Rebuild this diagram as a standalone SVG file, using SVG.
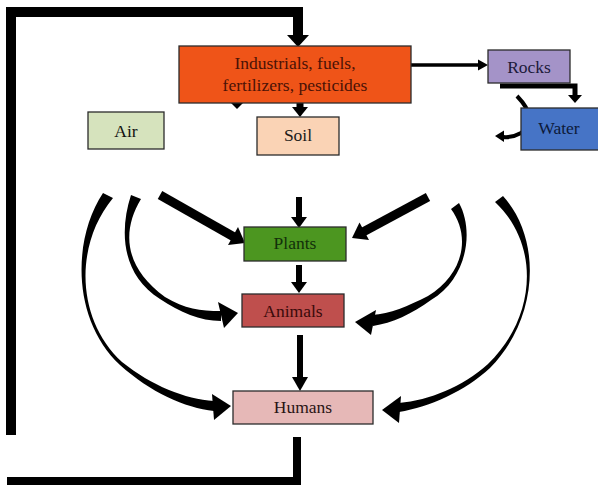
<svg xmlns="http://www.w3.org/2000/svg" width="598" height="486" viewBox="0 0 598 486">
<style>
.box{stroke:#2b2b2b;stroke-width:1.3}
.t{font-family:"Liberation Serif","DejaVu Serif",serif;font-size:17.5px;text-anchor:middle}
.ln{fill:none;stroke:#000}
.k{fill:#000;stroke:none}
</style>
<rect width="598" height="486" fill="#fff"/>
<g id="connectors">
  <path class="ln" d="M11,435 V12 H298 V37" stroke-width="10" stroke-linejoin="miter"/>
  <polygon class="k" points="287,35 309,35 298,47"/>
  <path class="ln" d="M297,437 V481 H7" stroke-width="8" stroke-linejoin="miter"/>
  <polygon class="k" points="231,103 243,103 237,109"/>
  <path class="ln" d="M300,103 V109" stroke-width="7"/>
  <polygon class="k" points="292,107 308,107 300,117"/>
  <path class="ln" d="M411,65 H480" stroke-width="3.5"/>
  <polygon class="k" points="478,59.5 488,65 478,70.5"/>
  <path class="ln" d="M500,86 H575 V96" stroke-width="5"/>
  <polygon class="k" points="568,95 582,95 575,103"/>
  <path class="ln" d="M517,96 Q540,120 521,133 Q512,138 503,137" stroke-width="4"/>
  <polygon class="k" points="495,136 504,130.5 504,142"/>
  <path class="ln" d="M299,197 V219" stroke-width="6"/>
  <polygon class="k" points="291,217 307,217 299,228"/>
  <path class="ln" d="M299,265 V284" stroke-width="6"/>
  <polygon class="k" points="291,282 307,282 299,293"/>
  <path class="ln" d="M300,335 V379" stroke-width="6"/>
  <polygon class="k" points="292,377 308,377 300,391"/>
  <path class="ln" d="M160,195 L234,237" stroke-width="9"/>
  <polygon class="k" points="245,243 228,245 238,227"/>
  <path class="ln" d="M428,197 L363,232" stroke-width="9"/>
  <polygon class="k" points="352,238 369,240 359.5,222.5"/>
  <path class="k" d="M131,195 C119,232 122,275 160,299 C180,312 200,321 221,321 L221,311 C200,311 185,309 165,297 C125,268 121,232 141,199 Z"/>
  <polygon class="k" points="238,313 218,302 224,328"/>
  <path class="k" d="M103,193 C72,240 72,320 120,365 C150,392 185,408 214,411 L214,401 C185,399 152,386 122,362 C76,320 74,245 113,198 Z"/>
  <polygon class="k" points="231,406 212,394 214,420"/>
  <path class="k" d="M459,203 C474,230 468,278 431,300 C412,314 392,323 373,326 L372,315 C390,314 408,306 428,296 C464,274 471,236 451,209 Z"/>
  <polygon class="k" points="355,322 376,310 371,335"/>
  <path class="k" d="M503,196 C543,240 538,320 490,368 C465,391 430,407 399,412 L399,403 C430,400 462,387 488,364 C536,318 541,245 495,202 Z"/>
  <polygon class="k" points="382,410 401,396 399,423"/>
</g>
<g id="industrials">
  <rect class="box" x="179" y="46" width="232" height="57" fill="#EF5418"/>
  <text class="t" x="295" y="69" fill="#4a1206">Industrials, fuels,</text>
  <text class="t" x="295" y="91" fill="#4a1206">fertilizers, pesticides</text>
</g>
<g id="rocks">
  <rect class="box" x="488" y="50" width="82" height="33" fill="#A493C8"/>
  <text class="t" x="529" y="73" fill="#1c1a3a">Rocks</text>
</g>
<g id="water">
  <rect class="box" x="521" y="108" width="78" height="42" fill="#4674C6"/>
  <text class="t" x="559" y="134" fill="#0d1a3a">Water</text>
</g>
<g id="air">
  <rect class="box" x="88" y="112" width="76" height="37" fill="#D6E3BD"/>
  <text class="t" x="126" y="137" fill="#111">Air</text>
</g>
<g id="soil">
  <rect class="box" x="257" y="117" width="82" height="38" fill="#FAD3B5"/>
  <text class="t" x="298" y="141" fill="#1a1a1a">Soil</text>
</g>
<g id="plants">
  <rect class="box" x="244" y="227" width="102" height="34" fill="#4C9620"/>
  <text class="t" x="295" y="249" fill="#12300a">Plants</text>
</g>
<g id="animals">
  <rect class="box" x="242" y="294" width="102" height="33" fill="#BF4F4D"/>
  <text class="t" x="293" y="317" fill="#3a0a0a">Animals</text>
</g>
<g id="humans">
  <rect class="box" x="233" y="391" width="140" height="33" fill="#E6B8B7"/>
  <text class="t" x="303" y="413" fill="#2a1414">Humans</text>
</g>
</svg>
